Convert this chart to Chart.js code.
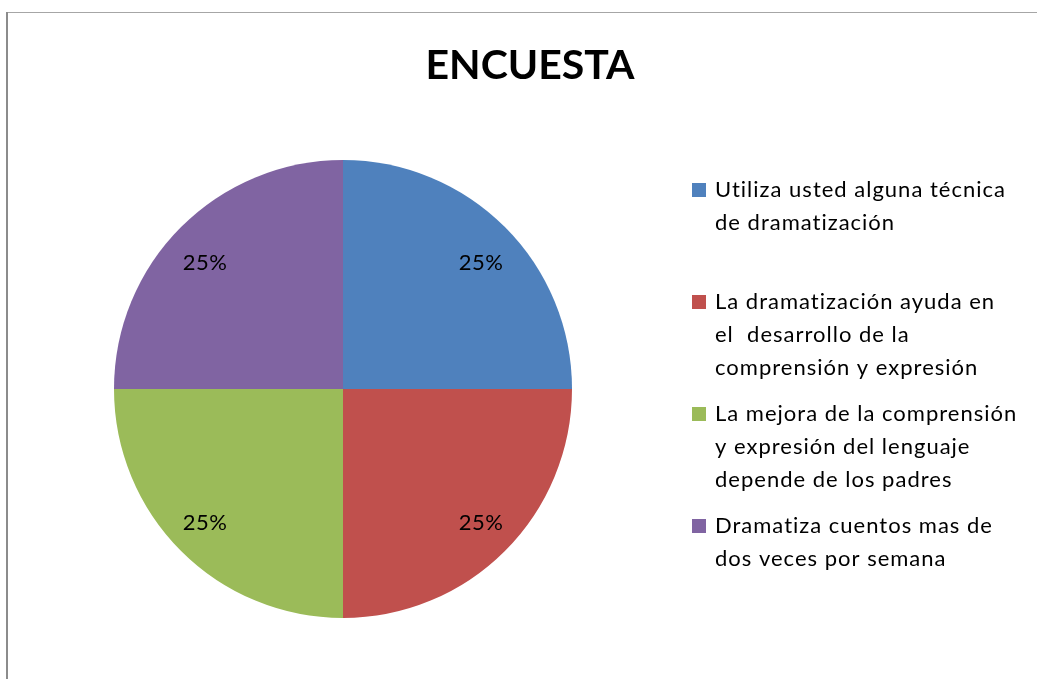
<!DOCTYPE html>
<html>
<head>
<meta charset="utf-8">
<script src="https://cdn.jsdelivr.net/npm/chart.js@4"></script>
<style>
  html, body { margin: 0; padding: 0; background: #fff; }
  canvas { display: block; }
</style>
</head>
<body>
<canvas id="encuesta" width="1037" height="679"></canvas>
<script>
const titleText = 'ENCUESTA';

const categories = [
  ['Utiliza usted alguna técnica', 'de dramatización'],
  ['La dramatización ayuda en', 'el  desarrollo de la', 'comprensión y expresión'],
  ['La mejora de la comprensión', 'y expresión del lenguaje', 'depende de los padres'],
  ['Dramatiza cuentos mas de', 'dos veces por semana']
];

const values = [25, 25, 25, 25];

const colors = ['#4F81BD', '#C0504D', '#9BBB59', '#8064A2'];

const font = 'Lato, "Open Sans", sans-serif';

// frame, title, legend and percent labels
const decorations = {
  id: 'decorations',
  beforeDraw(chart) {
    const ctx = chart.ctx;
    ctx.save();
    ctx.fillStyle = '#a6a6a6';
    ctx.fillRect(6, 12, chart.width, 1);
    ctx.fillStyle = '#8c8c8c';
    ctx.fillRect(6, 12, 2, chart.height);
    ctx.restore();
  },
  afterDraw(chart) {
    const ctx = chart.ctx;
    ctx.save();

    ctx.fillStyle = '#000';
    ctx.textAlign = 'center';
    ctx.textBaseline = 'middle';
    ctx.font = 'bold 41px ' + font;
    ctx.fillText(titleText, 530, 66);

    // percentages inside the slices
    const meta = chart.getDatasetMeta(0);
    const total = values.reduce((a, b) => a + b, 0);
    ctx.font = '22px ' + font;
    ctx.letterSpacing = '0.5px';
    meta.data.forEach((arc, i) => {
      const p = arc.getProps(['x', 'y', 'startAngle', 'endAngle', 'outerRadius'], true);
      const mid = (p.startAngle + p.endAngle) / 2;
      const pct = Math.round(values[i] / total * 100) + '%';
      const lx = p.x + Math.cos(mid) * p.outerRadius * 0.852;
      const ly = p.y + Math.sin(mid) * p.outerRadius * 0.803 + 4;
      ctx.fillText(pct, lx, ly);
    });

    // legend
    ctx.textAlign = 'left';
    ctx.font = '22px ' + font;
    ctx.letterSpacing = '1px';
    categories.forEach((lines, i) => {
      const y0 = 190 + i * 112;
      ctx.fillStyle = colors[i];
      ctx.fillRect(692, y0 - 7, 14, 14);
      ctx.fillStyle = '#000';
      lines.forEach((line, j) => {
        ctx.fillText(line, 715, y0 + j * 33);
      });
    });
    ctx.restore();
  }
};

new Chart(document.getElementById('encuesta'), {
  type: 'pie',
  data: {
    labels: categories.map(l => l.join(' ')),
    datasets: [{
      data: values,
      backgroundColor: colors,
      borderWidth: 0
    }]
  },
  options: {
    responsive: false,
    animation: false,
    layout: {
      padding: { left: 114, right: 465, top: 160, bottom: 61 }
    },
    plugins: {
      legend: { display: false },
      tooltip: { enabled: false }
    }
  },
  plugins: [decorations]
});
</script>
</body>
</html>
